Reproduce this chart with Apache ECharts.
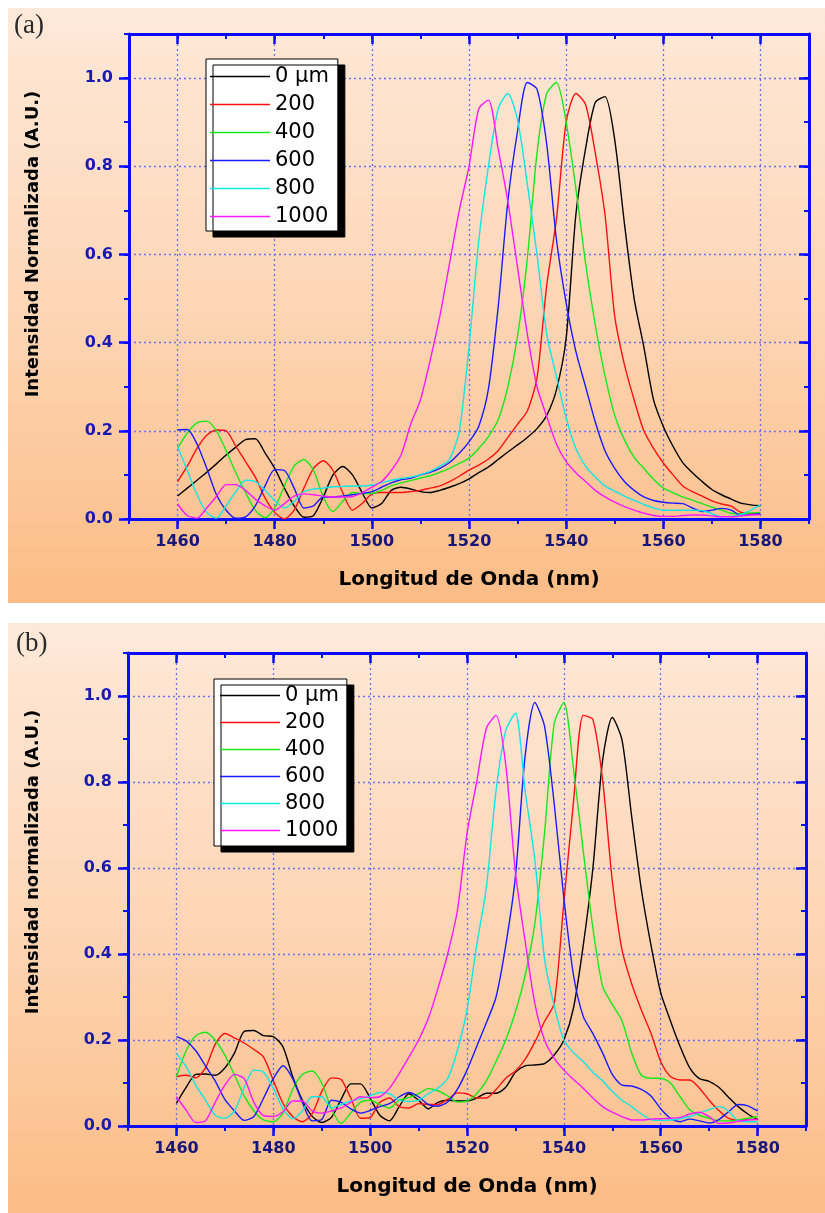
<!DOCTYPE html>
<html>
<head>
<meta charset="utf-8">
<script src="https://cdn.jsdelivr.net/npm/echarts@6/dist/echarts.min.js"></script>
<style>
html,body{margin:0;padding:0;background:#fff;}
#chart{width:825px;height:1213px;}
</style>
</head>
<body>
<div id="chart"></div>
<script>
// ---------------- DATA ----------------
const wavelength = [1460,1462,1464,1466,1468,1470,1472,1474,1476,1478,1480,1482,1484,1486,1488,1490,1492,1494,1496,1498,
  1500,1502,1504,1506,1508,1510,1512,1514,1516,1518,1520,1522,1524,1526,1528,1530,1532,1534,1536,1538,
  1540,1542,1544,1546,1548,1550,1552,1554,1556,1558,1560,1562,1564,1566,1568,1570,1572,1574,1576,1578,1580];

const seriesNames = ['0 µm','200','400','600','800','1000'];
const seriesColors = ['#000000','#ff1010','#18e818','#1a1aff','#10e6e6','#ff18ff'];

const xTickLabels = [1460,1480,1500,1520,1540,1560,1580];
const yTickLabels = [0.0,0.2,0.4,0.6,0.8,1.0];

// Panel (a)
const a_0um = [0.052,0.07,0.088,0.106,0.125,0.145,0.163,0.18,0.182,0.15,0.115,0.07,0.03,0.004,0.008,0.05,0.1,0.119,0.1,0.06,
  0.025,0.035,0.065,0.072,0.068,0.062,0.06,0.065,0.072,0.08,0.091,0.105,0.118,0.135,0.152,0.168,0.185,0.205,0.235,0.293,
  0.41,0.69,0.84,0.945,0.958,0.86,0.67,0.5,0.39,0.27,0.21,0.165,0.128,0.105,0.085,0.067,0.055,0.045,0.036,0.032,0.03];
const a_200 = [0.085,0.12,0.16,0.19,0.202,0.2,0.165,0.13,0.095,0.048,0.015,0.0,0.02,0.07,0.115,0.132,0.11,0.06,0.02,0.035,
  0.057,0.06,0.06,0.06,0.062,0.065,0.07,0.075,0.085,0.097,0.111,0.122,0.136,0.155,0.185,0.215,0.245,0.32,0.53,0.68,
  0.9,0.965,0.94,0.83,0.69,0.46,0.35,0.27,0.2,0.16,0.127,0.1,0.075,0.062,0.052,0.041,0.034,0.029,0.015,0.012,0.01];
const a_400 = [0.16,0.195,0.218,0.222,0.2,0.155,0.105,0.06,0.02,0.003,0.025,0.075,0.12,0.135,0.11,0.05,0.017,0.04,0.06,0.058,
  0.058,0.065,0.075,0.082,0.087,0.093,0.098,0.106,0.115,0.126,0.138,0.16,0.187,0.225,0.3,0.415,0.59,0.83,0.965,0.99,
  0.9,0.75,0.58,0.44,0.325,0.235,0.18,0.14,0.115,0.09,0.07,0.06,0.05,0.043,0.035,0.027,0.02,0.013,0.012,0.014,0.015];
const a_600 = [0.202,0.203,0.17,0.115,0.055,0.02,0.002,0.005,0.03,0.075,0.112,0.11,0.07,0.025,0.03,0.05,0.05,0.052,0.055,0.058,
  0.062,0.072,0.082,0.089,0.092,0.1,0.106,0.115,0.128,0.149,0.175,0.21,0.295,0.48,0.72,0.88,0.99,0.975,0.85,0.634,
  0.49,0.38,0.3,0.22,0.155,0.115,0.085,0.065,0.05,0.042,0.038,0.036,0.035,0.025,0.017,0.02,0.024,0.02,0.008,0.01,0.012];
const a_800 = [0.164,0.11,0.055,0.015,0.002,0.03,0.062,0.088,0.085,0.065,0.042,0.025,0.04,0.062,0.068,0.07,0.073,0.074,0.075,0.075,
  0.077,0.082,0.088,0.092,0.095,0.1,0.108,0.12,0.135,0.2,0.39,0.63,0.8,0.93,0.965,0.905,0.76,0.6,0.42,0.323,
  0.23,0.16,0.12,0.095,0.075,0.063,0.052,0.042,0.033,0.025,0.02,0.02,0.02,0.02,0.019,0.012,0.005,0.006,0.01,0.02,0.032];
const a_1000 = [0.034,0.008,0.002,0.025,0.051,0.078,0.078,0.065,0.045,0.03,0.02,0.035,0.052,0.057,0.055,0.052,0.05,0.05,0.051,0.06,
  0.072,0.085,0.11,0.145,0.215,0.27,0.36,0.46,0.58,0.7,0.8,0.93,0.95,0.84,0.72,0.57,0.42,0.3,0.233,0.17,
  0.13,0.105,0.085,0.065,0.05,0.038,0.028,0.02,0.013,0.008,0.006,0.006,0.008,0.009,0.009,0.007,0.005,0.005,0.007,0.009,0.01];

// Panel (b)
const b_0um = [0.053,0.09,0.12,0.121,0.118,0.135,0.17,0.22,0.222,0.21,0.208,0.184,0.115,0.06,0.023,0.008,0.02,0.062,0.098,0.098,
  0.065,0.025,0.012,0.045,0.075,0.06,0.04,0.055,0.06,0.058,0.058,0.065,0.076,0.076,0.09,0.125,0.14,0.142,0.145,0.165,
  0.2,0.275,0.42,0.6,0.85,0.95,0.898,0.72,0.55,0.42,0.31,0.245,0.185,0.135,0.11,0.104,0.09,0.067,0.045,0.028,0.015];
const b_200 = [0.115,0.118,0.112,0.135,0.19,0.215,0.205,0.193,0.178,0.16,0.106,0.053,0.022,0.01,0.028,0.08,0.112,0.108,0.065,0.018,
  0.02,0.055,0.065,0.045,0.042,0.052,0.05,0.05,0.062,0.077,0.075,0.065,0.065,0.085,0.111,0.128,0.155,0.195,0.243,0.285,
  0.52,0.755,0.955,0.945,0.805,0.57,0.41,0.331,0.27,0.215,0.15,0.115,0.107,0.107,0.088,0.06,0.036,0.018,0.014,0.015,0.016];
const b_400 = [0.115,0.175,0.21,0.218,0.2,0.165,0.118,0.07,0.035,0.014,0.01,0.03,0.085,0.12,0.128,0.1,0.04,0.006,0.03,0.055,
  0.06,0.05,0.042,0.06,0.066,0.075,0.087,0.082,0.07,0.056,0.058,0.075,0.105,0.15,0.2,0.265,0.35,0.47,0.68,0.935,
  0.985,0.83,0.64,0.46,0.325,0.283,0.245,0.17,0.118,0.111,0.111,0.1,0.068,0.038,0.025,0.018,0.012,0.012,0.014,0.018,0.022];
const b_600 = [0.208,0.198,0.175,0.14,0.105,0.062,0.035,0.013,0.022,0.065,0.11,0.14,0.11,0.055,0.012,0.015,0.06,0.055,0.04,0.03,
  0.036,0.045,0.052,0.068,0.078,0.068,0.05,0.046,0.056,0.085,0.13,0.185,0.24,0.3,0.42,0.58,0.86,0.985,0.93,0.75,
  0.53,0.35,0.255,0.215,0.17,0.12,0.095,0.093,0.085,0.07,0.04,0.018,0.01,0.016,0.012,0.007,0.015,0.033,0.05,0.047,0.035];
const b_800 = [0.169,0.138,0.095,0.06,0.025,0.018,0.035,0.09,0.13,0.125,0.088,0.04,0.017,0.035,0.068,0.068,0.042,0.05,0.058,0.063,
  0.07,0.078,0.075,0.06,0.057,0.06,0.075,0.088,0.11,0.175,0.27,0.42,0.555,0.78,0.92,0.96,0.78,0.62,0.39,0.28,
  0.2,0.17,0.15,0.125,0.105,0.08,0.06,0.045,0.028,0.015,0.013,0.014,0.017,0.022,0.03,0.038,0.045,0.035,0.012,0.01,0.01];
const b_1000 = [0.068,0.037,0.008,0.012,0.055,0.095,0.12,0.11,0.055,0.024,0.022,0.033,0.058,0.058,0.035,0.03,0.035,0.042,0.055,0.068,
  0.066,0.068,0.088,0.122,0.16,0.2,0.25,0.32,0.4,0.5,0.68,0.8,0.925,0.955,0.84,0.59,0.43,0.285,0.2,0.158,
  0.13,0.108,0.088,0.065,0.045,0.032,0.022,0.014,0.014,0.016,0.017,0.018,0.02,0.028,0.032,0.022,0.006,0.007,0.011,0.014,0.015];

const panelASeries = [a_0um,a_200,a_400,a_600,a_800,a_1000];
const panelBSeries = [b_0um,b_200,b_400,b_600,b_800,b_1000];

// ---------------- LAYOUT ----------------
const panels = [
  { L:129, T:34, W:680, H:485, values: panelASeries, tag:'(a)', tagPos:[14,12],
    yTitle:'Intensidad Normalizada (A.U.)', yTitleCenter:[33,244],
    bg:[8,8,817,595], legend:{left:206, top:59, gap:7, padding:[7,9,4,4]}, nameGap:51 },
  { L:128, T:653, W:678, H:473, values: panelBSeries, tag:'(b)', tagPos:[16,630],
    yTitle:'Intensidad normalizada (A.U.)', yTitleCenter:[33,862],
    bg:[8,623,817,590], legend:{left:214, top:679, gap:6, padding:[6,8,5,6]}, nameGap:51 }
];

const X_MIN = 1450, X_MAX = 1590, Y_MAX = 1.1;
const AXIS_BLUE = '#0a0aff';
const GRID_COLOR = '#6c6cee';
const FONT = 'DejaVu Sans';

const grids = [], xAxes = [], yAxes = [], series = [], legends = [], graphics = [];

panels.forEach((p, pi) => {
  graphics.push({
    type:'rect', z:-100, silent:true,
    shape:{x:p.bg[0], y:p.bg[1], width:p.bg[2], height:p.bg[3]},
    style:{fill:{type:'linear', x:0, y:0, x2:0, y2:1, colorStops:[
      {offset:0, color:'#fee9d9'}, {offset:0.5, color:'#fdd6b6'}, {offset:1, color:'#fbbc85'}]}}
  });
  graphics.push({
    type:'text', z:10, x:p.tagPos[0], y:p.tagPos[1],
    style:{text:p.tag, font:'27px "Liberation Serif"', fill:'#2a2a2a',
      shadowColor:'rgba(0,0,0,0.35)', shadowBlur:2, shadowOffsetX:2, shadowOffsetY:2}
  });
  graphics.push({
    type:'text', z:10, x:p.yTitleCenter[0], y:p.yTitleCenter[1], rotation:Math.PI/2,
    style:{text:p.yTitle, font:'bold 18px "DejaVu Sans"', fill:'#000',
      textAlign:'center', textVerticalAlign:'middle', align:'center', verticalAlign:'middle'}
  });

  const gMain = grids.length;
  grids.push({left:p.L, top:p.T, width:p.W, height:p.H, containLabel:false, outerBoundsMode:'none'});
  const gX = grids.length;
  const xl = p.L + p.W * (1460 - X_MIN) / (X_MAX - X_MIN);
  const xw = p.W * (1580 - 1460) / (X_MAX - X_MIN);
  grids.push({left:xl, top:p.T, width:xw, height:p.H, containLabel:false, outerBoundsMode:'none'});
  const gY = grids.length;
  const yt = p.T + p.H * (Y_MAX - 1.0) / Y_MAX;
  const yh = p.H * 1.0 / Y_MAX;
  grids.push({left:p.L, top:yt, width:p.W, height:yh, containLabel:false, outerBoundsMode:'none'});

  const axisLine = {show:true, onZero:false, lineStyle:{color:AXIS_BLUE, width:3}};
  const minorTick = (inside) => ({show:true, inside:inside, length:5, lineStyle:{color:AXIS_BLUE, width:2}});
  const majorTick = (inside) => ({show:true, inside:inside, length:10, lineStyle:{color:AXIS_BLUE, width:2.5}});
  const split = {show:true, lineStyle:{color:GRID_COLOR, width:1.3, type:[2,3]}};

  const xMain = xAxes.length;
  xAxes.push({type:'value', gridIndex:gMain, position:'bottom', min:X_MIN, max:X_MAX, interval:10,
    axisLine:axisLine, axisTick:minorTick(false), axisLabel:{show:false}, splitLine:{show:false}});
  xAxes.push({type:'value', gridIndex:gMain, position:'top', min:X_MIN, max:X_MAX, interval:10,
    axisLine:axisLine, axisTick:minorTick(true), axisLabel:{show:false}, splitLine:{show:false}});
  xAxes.push({type:'value', gridIndex:gX, position:'bottom', min:xTickLabels[0], max:xTickLabels[xTickLabels.length-1], interval:20,
    axisLine:{show:false, onZero:false}, axisTick:majorTick(false),
    axisLabel:{show:true, margin:15, color:'#15157a', fontFamily:FONT, fontWeight:'bold', fontSize:16,
      formatter:(v)=>String(Math.round(v))},
    splitLine:split,
    name:'Longitud de Onda (nm)', nameLocation:'middle', nameGap:p.nameGap,
    nameTextStyle:{color:'#000', fontFamily:FONT, fontWeight:'bold', fontSize:20}});
  xAxes.push({type:'value', gridIndex:gX, position:'top', min:xTickLabels[0], max:xTickLabels[xTickLabels.length-1], interval:20,
    axisLine:{show:false, onZero:false}, axisTick:majorTick(true), axisLabel:{show:false}, splitLine:{show:false}});
  xAxes.push({type:'value', gridIndex:gY, min:0, max:1, show:false});

  const yMain = yAxes.length;
  yAxes.push({type:'value', gridIndex:gMain, position:'left', min:0, max:Y_MAX, interval:0.1,
    axisLine:axisLine, axisTick:minorTick(false), axisLabel:{show:false}, splitLine:{show:false}});
  yAxes.push({type:'value', gridIndex:gMain, position:'right', min:0, max:Y_MAX, interval:0.1,
    axisLine:axisLine, axisTick:minorTick(true), axisLabel:{show:false}, splitLine:{show:false}});
  yAxes.push({type:'value', gridIndex:gY, position:'left', min:yTickLabels[0], max:yTickLabels[yTickLabels.length-1], interval:0.2,
    axisLine:{show:false, onZero:false}, axisTick:majorTick(false),
    axisLabel:{show:true, margin:16, color:'#1a1ab0', fontFamily:FONT, fontWeight:'bold', fontSize:16,
      formatter:(v)=>v.toFixed(1)},
    splitLine:split});
  yAxes.push({type:'value', gridIndex:gY, position:'right', min:yTickLabels[0], max:yTickLabels[yTickLabels.length-1], interval:0.2,
    axisLine:{show:false, onZero:false}, axisTick:majorTick(true), axisLabel:{show:false}, splitLine:{show:false}});
  yAxes.push({type:'value', gridIndex:gX, min:0, max:1, show:false});

  p.values.forEach((vals, si) => {
    series.push({
      type:'line', name:seriesNames[si], xAxisIndex:xMain, yAxisIndex:yMain,
      data: wavelength.map((w, i) => [w, vals[i]]),
      showSymbol:false, symbol:'none', smooth:0.25, z:5,
      lineStyle:{color:seriesColors[si], width:1.4}, itemStyle:{color:seriesColors[si]},
      emphasis:{disabled:true}, animation:false
    });
  });

  legends.push({
    orient:'vertical', left:p.legend.left, top:p.legend.top,
    data:seriesNames.map(n => ({name:n, icon:'rect'})),
    itemWidth:60, itemHeight:1.6, itemGap:p.legend.gap,
    padding:p.legend.padding, backgroundColor:'#ffffff', borderColor:'#000', borderWidth:1,
    shadowColor:'#000', shadowBlur:0, shadowOffsetX:7, shadowOffsetY:6,
    textStyle:{color:'#000', fontFamily:FONT, fontSize:21},
    selectedMode:false
  });
});

const chart = echarts.init(document.getElementById('chart'), null, {renderer:'canvas'});
chart.setOption({
  backgroundColor:'#ffffff',
  animation:false,
  grid:grids, xAxis:xAxes, yAxis:yAxes, series:series, legend:legends,
  graphic:{elements:graphics}
});
</script>
</body>
</html>
